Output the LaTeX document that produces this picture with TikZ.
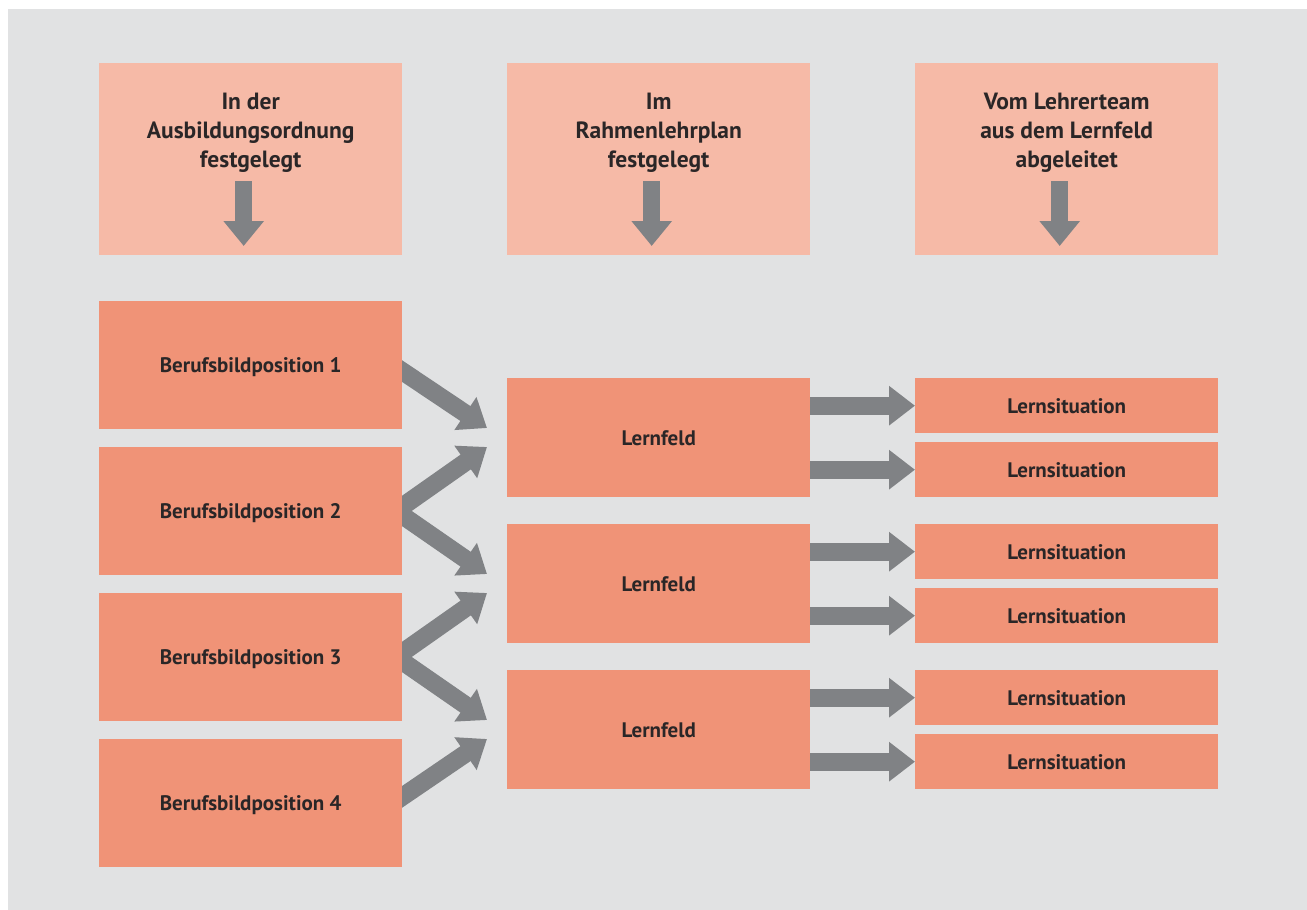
\documentclass[tikz,border=0pt]{standalone}
\usepackage{fontspec}
\setmainfont{PT Sans}
\usetikzlibrary{arrows.meta,calc}
\definecolor{bg}{HTML}{E1E2E3}
\definecolor{lightbox}{HTML}{F6BAA7}
\definecolor{mainbox}{HTML}{F09377}
\definecolor{arrowgrey}{HTML}{808285}
\definecolor{txt}{HTML}{2A2627}
\begin{document}
\begin{tikzpicture}[x=1pt,y=-1pt,
  headbox/.style={fill=lightbox,draw=none,minimum width=303pt,minimum height=192pt,anchor=north west,inner sep=0pt},
  boxtext/.style={font=\bfseries\fontsize{21}{24}\selectfont,text=txt,text height=15.5pt,text depth=0pt},
  bbbox/.style={fill=mainbox,draw=none,minimum width=303pt,minimum height=128pt,anchor=north west,inner sep=0pt,boxtext},
  lfbox/.style={fill=mainbox,draw=none,minimum width=303pt,minimum height=119pt,anchor=north west,inner sep=0pt,boxtext},
  lsbox/.style={fill=mainbox,draw=none,minimum width=303pt,minimum height=55pt,anchor=north west,inner sep=0pt,boxtext},
  headtext/.style={font=\bfseries\fontsize{23.5}{29}\selectfont,text=txt,align=center,anchor=north},
  fat/.style={draw=arrowgrey,line width=18pt,-{Triangle[length=26pt,width=38pt]}},
  fatdown/.style={draw=arrowgrey,line width=17pt,-{Triangle[length=25pt,width=39pt]}}
]
\useasboundingbox (0,0) rectangle (1307,910);
\fill[white] (0,0) rectangle (1307,910);
\fill[bg] (8,9) rectangle (1307,910);

% header boxes
\node[headbox] (h1) at (99,63) {};
\node[headbox] (h2) at (507,63) {};
\node[headbox] (h3) at (915,63) {};
\node[headtext] (t1) at ($(h1.north)+(0,27)$) {In der\\Ausbildungsordnung\\festgelegt};
\node[headtext] (t2) at ($(h2.north)+(0,27)$) {Im\\Rahmenlehrplan\\festgelegt};
\node[headtext] (t3) at ($(h3.north)+(0,27)$) {Vom Lehrerteam\\aus dem Lernfeld\\abgeleitet};
\foreach \h in {h1,h2,h3}{
  \coordinate (\h top) at ($(\h.north)+(-7,118)$);
  \coordinate (\h tip) at ($(\h.north)+(-7,183)$);
  \draw[fatdown] (\h top) -- (\h tip);
}

% diagonal arrows (drawn beneath boxes)
\coordinate (bp1s) at (396,367);
\coordinate (bp2s) at (396,511);
\coordinate (bp3s) at (396,657);
\coordinate (bp4s) at (396,801);
\coordinate (lf1a) at (487,428);
\coordinate (lf1b) at (487,447);
\coordinate (lf2a) at (487,574);
\coordinate (lf2b) at (487,593);
\coordinate (lf3a) at (487,720);
\coordinate (lf3b) at (487,739);
\draw[fat] (bp1s) -- (lf1a);
\draw[fat] (bp2s) -- (lf1b);
\draw[fat] (bp2s) -- (lf2a);
\draw[fat] (bp3s) -- (lf2b);
\draw[fat] (bp3s) -- (lf3a);
\draw[fat] (bp4s) -- (lf3b);

% left column
\node[bbbox] (bp1) at (99,301) {Berufsbildposition 1};
\node[bbbox] (bp2) at (99,447) {Berufsbildposition 2};
\node[bbbox] (bp3) at (99,593) {Berufsbildposition 3};
\node[bbbox] (bp4) at (99,739) {Berufsbildposition 4};

% middle column
\node[lfbox] (lf1) at (507,378) {Lernfeld};
\node[lfbox] (lf2) at (507,524) {Lernfeld};
\node[lfbox] (lf3) at (507,670) {Lernfeld};

% right column
\node[lsbox] (ls1) at (915,378) {Lernsituation};
\node[lsbox] (ls2) at (915,442) {Lernsituation};
\node[lsbox] (ls3) at (915,524) {Lernsituation};
\node[lsbox] (ls4) at (915,588) {Lernsituation};
\node[lsbox] (ls5) at (915,670) {Lernsituation};
\node[lsbox] (ls6) at (915,734) {Lernsituation};

\foreach \l/\s in {lf1/ls1,lf1/ls2,lf2/ls3,lf2/ls4,lf3/ls5,lf3/ls6}{
  \draw[fat] (\l.east |- \s.west) -- (\s.west);
}
\end{tikzpicture}
\end{document}
